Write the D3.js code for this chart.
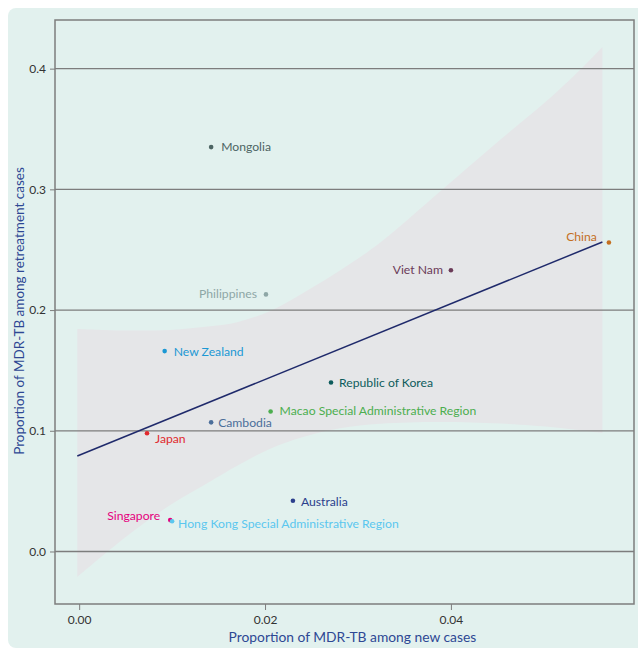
<!DOCTYPE html>
<meta charset="utf-8">
<head>
  <script src="https://d3js.org/d3.v7.min.js"></script>
  <style>
    body { margin: 0; background: #fff; }
    text { font-family: Lato, "Open Sans", sans-serif; }
  </style>
</head>
<body>
  <div id="my_dataviz"></div>
</body>
<script>
  // data
  var countries = ["Mongolia", "China", "Viet Nam", "Philippines", "New Zealand",
    "Republic of Korea", "Macao Special Administrative Region", "Cambodia", "Japan",
    "Australia", "Singapore", "Hong Kong Special Administrative Region"];
  var newCases = [0.0142, 0.0570, 0.0400, 0.0201, 0.0092, 0.0271, 0.0206, 0.0142, 0.0073, 0.0230, 0.0098, 0.0100];
  var retreatCases = [0.335, 0.256, 0.233, 0.213, 0.166, 0.140, 0.116, 0.107, 0.098, 0.042, 0.026, 0.025];

  // fitted line end points and confidence band edges
  var fitX = [-0.0002, 0.0563];
  var fitY = [0.0791, 0.2564];
  var bandX = [-0.0002, 0.0026, 0.0055, 0.0098, 0.0141, 0.0170, 0.0205, 0.0241, 0.0281, 0.0324, 0.0388, 0.0453, 0.0510, 0.0539, 0.0563];
  var bandUpper = [0.1843, 0.1835, 0.1830, 0.1835, 0.1865, 0.1900, 0.1990, 0.2142, 0.2330, 0.2560, 0.2980, 0.3410, 0.3780, 0.3990, 0.4180];
  var bandLower = [-0.0211, -0.0029, 0.0150, 0.0385, 0.0580, 0.0710, 0.0850, 0.0948, 0.1020, 0.1058, 0.1073, 0.1060, 0.1030, 0.1005, 0.0982];

  var xTicks = [0, 0.02, 0.04];
  var yTicks = [0, 0.1, 0.2, 0.3, 0.4];

  var colors = ["#4d6563", "#c46f1f", "#6b3b58", "#8ea7a6", "#1b98d4", "#0d5c5c",
    "#4cae4f", "#4b6e9a", "#e02a2e", "#2b3f8c", "#e5007d", "#5bc7ef"];
  // label placement: [dx, dy, anchor]
  var labelPos = [[10, 4, "start"], [-12, -1, "end"], [-8, 4, "end"], [-9, 4, "end"],
    [9, 5, "start"], [8, 5, "start"], [9, 4, "start"], [7, 5, "start"], [8, 10, "start"],
    [8, 5, "start"], [-10, 0, "end"], [6, 7, "start"]];

  var W = 638, H = 651;
  var margin = { top: 20, right: 4, bottom: 47, left: 55 };
  var width = W - margin.left - margin.right,
    height = H - margin.top - margin.bottom;

  var svg = d3.select("#my_dataviz").append("svg")
    .attr("width", W).attr("height", H);

  svg.append("rect")
    .attr("x", 8).attr("y", 8).attr("width", 640).attr("height", 640)
    .attr("rx", 8).attr("fill", "#e2f1ee");

  var g = svg.append("g")
    .attr("transform", "translate(" + margin.left + "," + margin.top + ")");

  var x = d3.scaleLinear().domain([-0.0026, 0.0597]).range([0, width]);
  var y = d3.scaleLinear().domain([-0.0435, 0.4403]).range([height, 0]);

  // confidence band
  var bandData = bandX.map(function (d, i) { return { x: d, lo: bandLower[i], hi: bandUpper[i] }; });
  g.append("path")
    .datum(bandData)
    .attr("fill", "#e5e6e8")
    .attr("d", d3.area()
      .curve(d3.curveCatmullRom)
      .x(function (d) { return x(d.x); })
      .y0(function (d) { return y(d.lo); })
      .y1(function (d) { return y(d.hi); }));

  // gridlines
  g.selectAll(".grid").data(yTicks).enter().append("line")
    .attr("x1", 0).attr("x2", width)
    .attr("y1", function (d) { return y(d); })
    .attr("y2", function (d) { return y(d); })
    .attr("stroke", "#7d7d7d").attr("stroke-width", 1.3);

  // axes
  var yAxis = g.append("g")
    .call(d3.axisLeft(y).tickValues(yTicks).tickSize(5).tickPadding(4).tickFormat(d3.format(".1f")));
  var xAxis = g.append("g")
    .attr("transform", "translate(0," + height + ")")
    .call(d3.axisBottom(x).tickValues(xTicks).tickSize(6).tickPadding(5).tickFormat(d3.format(".2f")));
  [xAxis, yAxis].forEach(function (a) {
    a.select(".domain").remove();
    a.selectAll("line").attr("stroke", "#7d7d7d");
    a.selectAll("text").attr("fill", "#333").style("font-size", "12px")
      .style("font-family", "Lato, sans-serif");
  });

  // frame
  g.append("rect")
    .attr("width", width).attr("height", height)
    .attr("fill", "none").attr("stroke", "#7d7d7d").attr("stroke-width", 1.5);

  // regression line
  g.append("line")
    .attr("x1", x(fitX[0])).attr("y1", y(fitY[0]))
    .attr("x2", x(fitX[1])).attr("y2", y(fitY[1]))
    .attr("stroke", "#1f2a6b").attr("stroke-width", 1.5);

  // points and labels
  var pts = g.selectAll(".pt").data(countries).enter().append("g");
  pts.append("circle")
    .attr("cx", function (d, i) { return x(newCases[i]); })
    .attr("cy", function (d, i) { return y(retreatCases[i]); })
    .attr("r", 2.3)
    .attr("fill", function (d, i) { return colors[i]; });
  pts.append("text")
    .attr("x", function (d, i) { return x(newCases[i]) + labelPos[i][0]; })
    .attr("y", function (d, i) { return y(retreatCases[i]) + labelPos[i][1]; })
    .attr("text-anchor", function (d, i) { return labelPos[i][2]; })
    .attr("fill", function (d, i) { return colors[i]; })
    .style("font-size", "12.2px")
    .text(function (d) { return d; });

  // axis titles
  svg.append("text")
    .attr("x", margin.left + x(0.0294)).attr("y", 642)
    .attr("text-anchor", "middle").attr("fill", "#2e4894")
    .style("font-size", "13.8px")
    .text("Proportion of MDR-TB among new cases");
  svg.append("text")
    .attr("transform", "translate(24," + (margin.top + y(0.1992)) + ")rotate(-90)")
    .attr("text-anchor", "middle").attr("fill", "#2e4894")
    .style("font-size", "13.5px")
    .text("Proportion of MDR-TB among retreatment cases");
</script>
